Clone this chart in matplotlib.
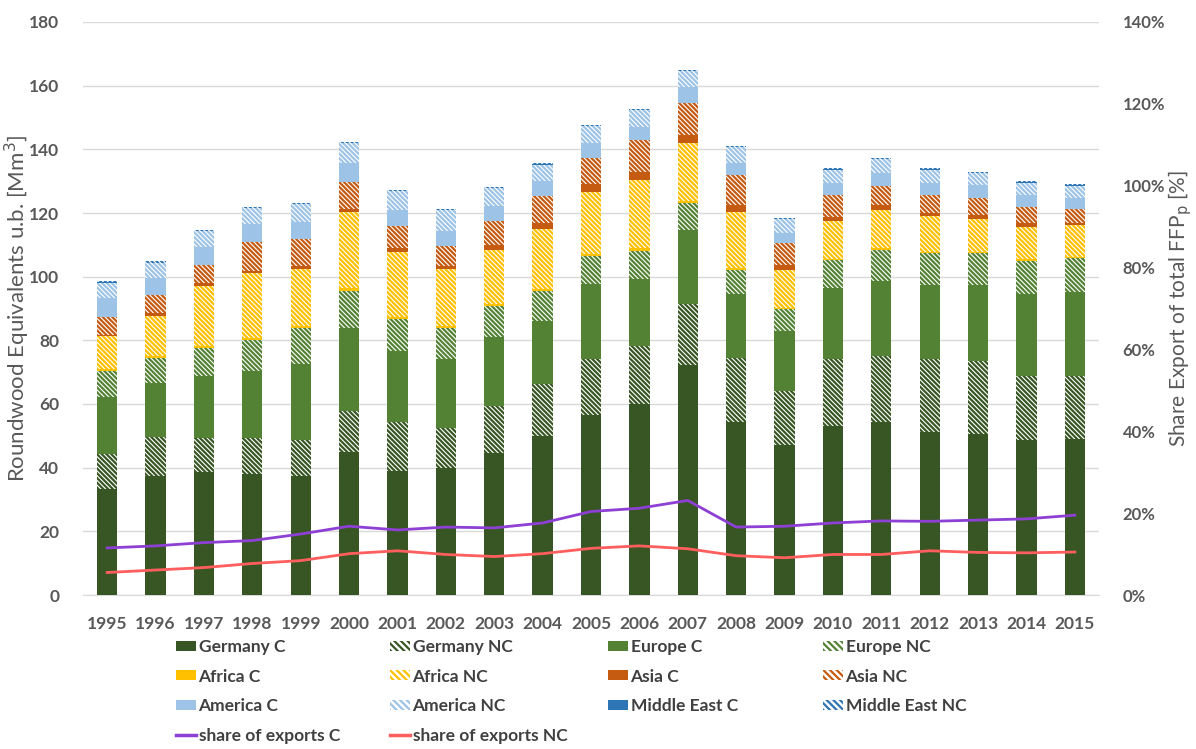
import matplotlib
matplotlib.use("Agg")
import matplotlib.pyplot as plt
from matplotlib.patches import Patch
from matplotlib.lines import Line2D
import numpy as np

plt.rcParams['font.family'] = ['Lato', 'DejaVu Sans']
plt.rcParams['hatch.linewidth'] = 1.6

years = [str(y) for y in range(1995, 2016)]

germany_c  = [33.4, 37.4, 38.6, 38.0, 37.4, 44.8, 39.0, 40.0, 44.5, 49.9, 56.5, 60.0, 72.4, 54.2, 47.0, 53.0, 54.2, 51.1, 50.7, 48.6, 48.9]
germany_nc = [10.9, 12.3, 10.8, 11.4, 11.2, 13.1, 15.4, 12.6, 14.9, 16.3, 17.5, 18.2, 19.1, 20.4, 17.0, 21.2, 20.9, 23.1, 22.7, 20.3, 20.0]
europe_c   = [17.8, 16.9, 19.3, 21.1, 24.1, 25.9, 22.1, 21.4, 21.6, 20.0, 23.6, 21.1, 23.3, 20.0, 18.8, 22.3, 23.5, 23.2, 24.0, 25.5, 26.4]
europe_nc  = [8.2, 8.0, 8.9, 9.7, 11.3, 11.7, 10.1, 9.8, 9.9, 9.3, 8.8, 8.9, 8.3, 7.5, 6.9, 8.7, 9.9, 10.0, 10.0, 10.5, 10.5]
africa_c   = [0.6, 0.5, 0.6, 0.6, 0.5, 1.0, 0.6, 0.6, 0.5, 0.6, 0.6, 0.7, 0.6, 0.6, 0.5, 0.5, 0.5, 0.5, 0.5, 0.5, 0.4]
africa_nc  = [10.4, 12.7, 18.9, 20.3, 17.8, 23.8, 20.7, 18.0, 16.9, 18.8, 19.6, 21.4, 18.2, 17.6, 11.9, 11.8, 12.0, 11.1, 10.2, 10.3, 9.9]
asia_c     = [0.4, 0.7, 0.8, 0.8, 1.0, 1.1, 1.0, 0.9, 1.8, 2.0, 2.4, 2.7, 2.7, 2.2, 1.7, 1.3, 1.5, 1.0, 1.3, 1.2, 0.9]
asia_nc    = [5.5, 5.6, 5.7, 9.1, 8.4, 8.4, 7.1, 6.4, 7.4, 8.3, 8.3, 9.9, 10.0, 9.3, 6.9, 6.8, 5.9, 5.6, 5.3, 5.0, 4.1]
america_c  = [6.0, 5.5, 5.6, 5.7, 5.5, 6.0, 5.0, 4.7, 4.7, 4.7, 4.6, 4.2, 5.0, 3.9, 3.1, 3.9, 4.3, 3.9, 4.2, 3.9, 3.7]
america_nc = [4.9, 4.7, 5.0, 4.9, 5.5, 6.2, 5.8, 6.5, 5.6, 5.3, 5.3, 5.1, 4.9, 5.0, 4.3, 4.1, 4.3, 4.1, 3.7, 3.7, 3.8]
mideast_c  = [0.1, 0.1, 0.1, 0.1, 0.1, 0.1, 0.1, 0.1, 0.1, 0.1, 0.1, 0.1, 0.1, 0.1, 0.1, 0.1, 0.1, 0.1, 0.1, 0.1, 0.1]
mideast_nc = [0.4, 0.4, 0.4, 0.3, 0.3, 0.3, 0.3, 0.3, 0.3, 0.3, 0.3, 0.3, 0.3, 0.3, 0.3, 0.3, 0.3, 0.3, 0.3, 0.3, 0.3]

share_c  = [11.5, 12.0, 12.8, 13.3, 14.9, 16.8, 15.9, 16.6, 16.4, 17.6, 20.4, 21.2, 23.1, 16.6, 16.8, 17.6, 18.1, 18.0, 18.3, 18.6, 19.5]
share_nc = [5.5, 6.1, 6.7, 7.7, 8.4, 10.1, 10.8, 9.9, 9.4, 10.1, 11.4, 12.0, 11.3, 9.6, 9.1, 9.9, 9.9, 10.8, 10.4, 10.3, 10.5]

series = [
    ("Germany C", germany_c, "#375623", False),
    ("Germany NC", germany_nc, "#375623", True),
    ("Europe C", europe_c, "#548235", False),
    ("Europe NC", europe_nc, "#548235", True),
    ("Africa C", africa_c, "#FFC000", False),
    ("Africa NC", africa_nc, "#FFC000", True),
    ("Asia C", asia_c, "#C55A11", False),
    ("Asia NC", asia_nc, "#C55A11", True),
    ("America C", america_c, "#9DC3E6", False),
    ("America NC", america_nc, "#9DC3E6", True),
    ("Middle East C", mideast_c, "#2E75B6", False),
    ("Middle East NC", mideast_nc, "#2E75B6", True),
]

W, H = 1196, 749
fig = plt.figure(figsize=(W / 100, H / 100), dpi=100)
ax = fig.add_axes([83 / W, 154 / H, (1099 - 83) / W, (595 - 22) / H])
ax2 = ax.twinx()

x = np.arange(len(years))
bw = 0.42
hatch = '\\' * 7
bottom = np.zeros(len(years))
handles = {}
for name, vals, col, nc in series:
    v = np.array(vals)
    if nc:
        ax.bar(x, v, bw, bottom=bottom, facecolor='white', edgecolor=col,
               hatch=hatch, linewidth=0, zorder=3)
        handles[name] = Patch(facecolor='white', edgecolor=col, hatch='\\' * 5, linewidth=0)
    else:
        ax.bar(x, v, bw, bottom=bottom, color=col, linewidth=0, zorder=3)
        handles[name] = Patch(facecolor=col, edgecolor=col, linewidth=0)
    bottom += v

ax2.plot(x, share_c, color='#8E3FD4', lw=2.0, zorder=4)
ax2.plot(x, share_nc, color='#FF5E5E', lw=2.0, zorder=4)
handles["share of exports C"] = Line2D([], [], color='#8E3FD4', lw=2.5)
handles["share of exports NC"] = Line2D([], [], color='#FF5E5E', lw=2.5)

ax.set_xlim(-0.5, len(years) - 0.5)
ax.set_ylim(0, 180)
ax.set_yticks(np.arange(0, 181, 20))
ax2.set_ylim(0, 140)
ax2.set_yticks(np.arange(0, 141, 20))
ax2.set_yticklabels([f"{v}%" for v in range(0, 141, 20)])
ax.set_xticks(x)
ax.set_xticklabels(years)

ax.yaxis.grid(True, color='#D9D9D9', lw=1.0, zorder=0)
ax.set_axisbelow(True)
for a in (ax, ax2):
    for s in a.spines.values():
        s.set_visible(False)
ax.spines['bottom'].set_visible(True)
ax.spines['bottom'].set_color('#D9D9D9')

tick_kw = dict(colors='#595959', length=0)
ax.tick_params(axis='y', pad=17, labelsize=12.5, **tick_kw)
ax.tick_params(axis='x', pad=15, labelsize=12.5, **tick_kw)
ax2.tick_params(axis='y', pad=17, labelsize=12, **tick_kw)
for lab in ax.get_yticklabels() + ax.get_xticklabels() + ax2.get_yticklabels():
    lab.set_fontweight('bold')

ax.set_ylabel("Roundwood Equivalents u.b. [Mm$^3$]", fontsize=16, color='#595959')
ax.yaxis.set_label_coords((32 - 83) / 1016, 0.5)
ax2.set_ylabel("Share Export of total FFP$_\\mathrm{p}$ [%]", fontsize=15, color='#595959')
ax2.yaxis.set_label_coords((1166 - 83) / 1016, 0.5)

ax.set_zorder(ax2.get_zorder() - 1)
ax2.patch.set_visible(False)
ax.patch.set_visible(True)

cols = [
    ["Germany C", "Africa C", "America C", "share of exports C"],
    ["Germany NC", "Africa NC", "America NC", "share of exports NC"],
    ["Europe C", "Asia C", "Middle East C"],
    ["Europe NC", "Asia NC", "Middle East NC"],
]
col_x = [176, 390, 608, 823]
for cx, names in zip(col_x, cols):
    leg = fig.legend([handles[n] for n in names], names, loc='upper left',
                     bbox_to_anchor=(cx / W, 1 - 639 / H), frameon=False,
                     fontsize=12.5, handlelength=1.15, handleheight=0.5,
                     handletextpad=0.15, labelspacing=0.78, borderpad=0,
                     borderaxespad=0)
    for t in leg.get_texts():
        t.set_color('#404040')
        t.set_fontweight('bold')

fig.savefig("out.png", dpi=100)
